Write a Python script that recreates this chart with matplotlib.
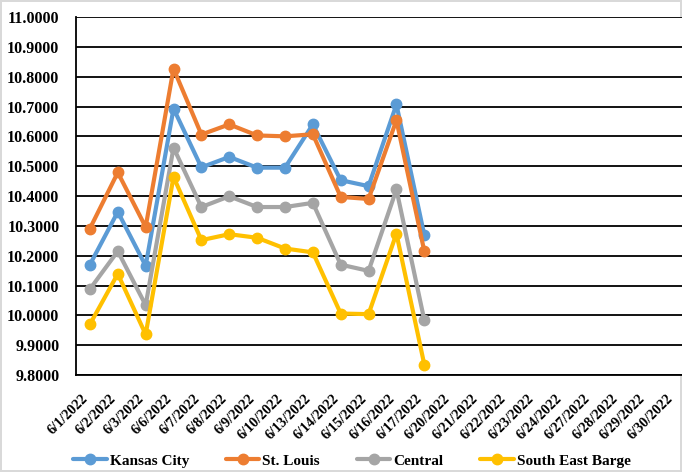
import matplotlib
matplotlib.use("Agg")
from matplotlib import pyplot as plt
import numpy as np

dates = ["6/1/2022", "6/2/2022", "6/3/2022", "6/6/2022", "6/7/2022", "6/8/2022",
         "6/9/2022", "6/10/2022", "6/13/2022", "6/14/2022", "6/15/2022", "6/16/2022",
         "6/17/2022", "6/20/2022", "6/21/2022", "6/22/2022", "6/23/2022", "6/24/2022",
         "6/27/2022", "6/28/2022", "6/29/2022", "6/30/2022"]

kansas_city = [10.170, 10.347, 10.166, 10.693, 10.496, 10.531, 10.495, 10.495,
               10.640, 10.453, 10.433, 10.707, 10.269]
st_louis = [10.291, 10.479, 10.296, 10.827, 10.606, 10.640, 10.603, 10.600,
            10.607, 10.397, 10.390, 10.654, 10.215]
central = [10.088, 10.215, 10.034, 10.562, 10.363, 10.399, 10.363, 10.363,
           10.377, 10.170, 10.149, 10.422, 9.984]
south_east_barge = [9.970, 10.139, 9.936, 10.464, 10.252, 10.272, 10.260, 10.224,
                    10.211, 10.006, 10.004, 10.274, 9.835]

series = [("Kansas City", kansas_city, "#5b9bd5"),
          ("St. Louis", st_louis, "#ed7d31"),
          ("Central", central, "#a5a5a5"),
          ("South East Barge", south_east_barge, "#ffc000")]

plt.rcParams["font.family"] = ["Liberation Serif", "DejaVu Serif"]
plt.rcParams["font.weight"] = "bold"

fig = plt.figure(figsize=(6.82, 4.72), dpi=100)
fig.patch.set_edgecolor("#d9d9d9")
fig.patch.set_linewidth(1.5)
ax = fig.add_axes([76 / 682, 1 - 375 / 472, 613 / 682, 358 / 472])

x = np.arange(len(dates))
for name, vals, col in series:
    ax.plot(x[:len(vals)], vals, color=col, lw=3, marker="o", ms=7.5, label=name,
            solid_capstyle="round", zorder=3)

ax.set_xlim(-0.5, len(dates) - 0.5)
ax.set_ylim(9.8, 11.0)
ax.set_yticks(np.arange(9.8, 11.05, 0.1))
ax.yaxis.set_major_formatter(matplotlib.ticker.FormatStrFormatter("%.4f"))
ax.grid(axis="y", color="black", lw=1.3)
# ticks are invisible, so nudge them left to keep the last label inside
ax.set_xticks(x - 0.3)
ax.set_xticklabels(dates, rotation=45, ha="right", va="top", rotation_mode="anchor",
                   fontsize=10.3)
ax.tick_params(axis="y", labelsize=11.5, length=0, pad=12)
ax.tick_params(axis="x", length=0, pad=12)
for s in ["top", "right"]:
    ax.spines[s].set_visible(False)
for s in ["left", "bottom"]:
    ax.spines[s].set_color("black")
    ax.spines[s].set_linewidth(1.3)

fig.legend(loc="lower left", bbox_to_anchor=(0.087, -0.02), ncol=4, frameon=False,
           fontsize=11, handlelength=2.2, columnspacing=2.4, handletextpad=0.2)

fig.savefig("out.png", dpi=100)
